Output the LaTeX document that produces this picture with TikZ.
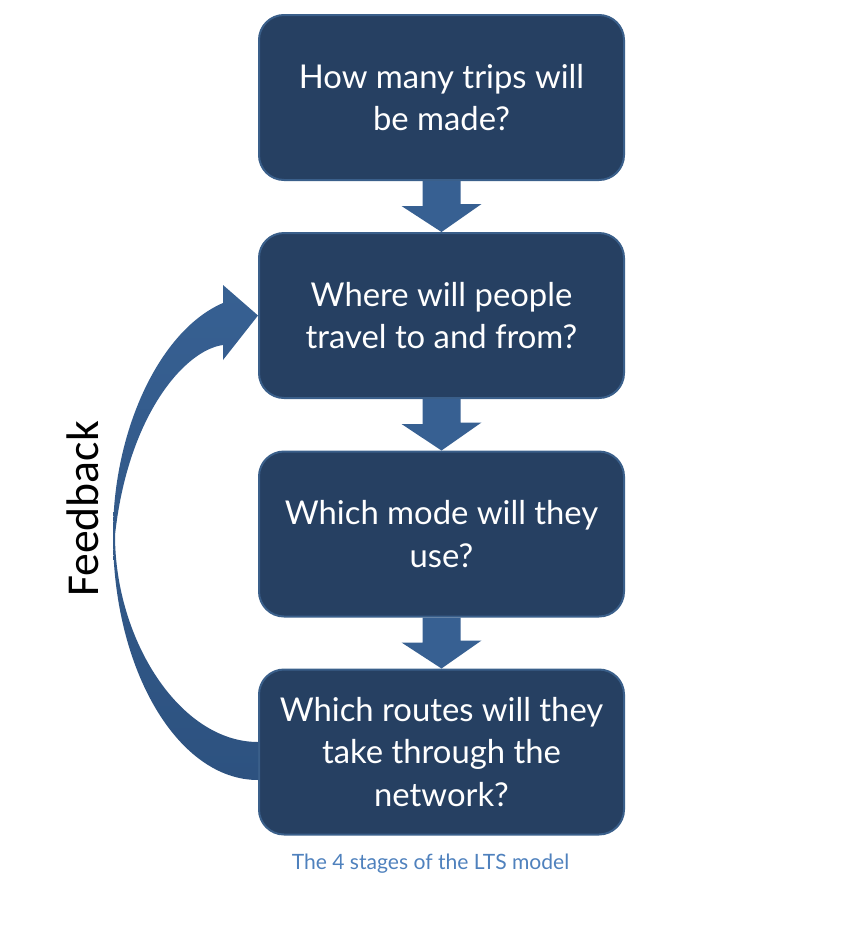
\documentclass[tikz,border=0pt]{standalone}
\usepackage{fontspec}
\setmainfont{Lato}
\newfontfamily\fbfont{Carlito}
\usetikzlibrary{calc}
\definecolor{boxfill}{RGB}{38,64,98}
\definecolor{boxline}{RGB}{58,95,138}
\definecolor{arrowfill}{RGB}{55,96,146}
\definecolor{arrowdark}{RGB}{45,82,128}
\definecolor{captionblue}{RGB}{79,129,189}
\tikzset{
  stage/.style={draw=boxline, line width=0.6mm, fill=boxfill, rounded corners=7.5mm,
    minimum width=109.5mm, minimum height=49.5mm, text=white, align=center,
    font=\fontsize{28}{36}\selectfont},
  stagearrow/.style={fill=arrowfill}
}
\begin{document}
\begin{tikzpicture}[x=0.3mm,y=-0.3mm]
  \useasboundingbox (0,0) rectangle (843,948);
  \node[stage] (q1) at (441.5,97.5) {How many trips will\\be made?};
  \node[stage] (q2) at (441.5,315.5) {Where will people\\travel to and from?};
  \node[stage] (q3) at (441.5,534) {Which mode will they\\use?};
  \node[stage] (q4) at (441.5,752) {Which routes will they\\take through the\\network?};
  % block arrows between the stages
  \foreach \a/\b in {q1/q2,q2/q3,q3/q4}
    \fill[stagearrow] ($(\a.south)+(-19,0)$) -- ++(0,25) -- ++(-21,0) -- (\b.north)
      -- ++(40,-28) -- ++(-21,0) -- ($(\a.south)+(19,0)$) -- cycle;
  % feedback loop
  \shade[top color=arrowfill, bottom color=arrowdark] ($(q4.west)+(0,28)$)
      .. controls (178,780) and (113,670) .. (113,535)
      .. controls (113,430) and (160,330) .. (223,303) -- (223,285) -- (q2.west)
      -- (223,360) -- (223,345) .. controls (185,350) and (128,415) .. (115,535)
      .. controls (115,640) and (180,742) .. ($(q4.west)+(0,-10)$) -- cycle;
  \node[rotate=90, font=\fbfont\fontsize{39}{42}\selectfont] (fb) at (83,509) {Feedback};
  \node[text=captionblue, font=\fontsize{18}{21}\selectfont] (cap) at (430.5,864) {The 4 stages of the LTS model};
\end{tikzpicture}
\end{document}
